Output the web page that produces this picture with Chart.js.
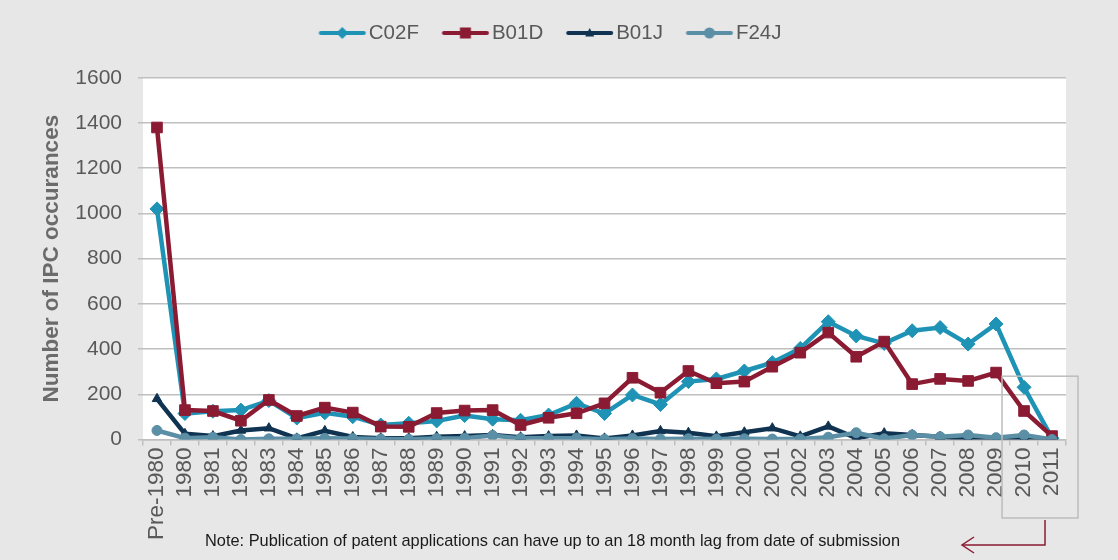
<!DOCTYPE html>
<html>
<head>
<meta charset="utf-8">
<title>IPC occurances</title>
<script src="https://cdn.jsdelivr.net/npm/chart.js@4.4.0/dist/chart.umd.min.js"></script>
<style>
  html, body { margin: 0; padding: 0; background: #e7e7e8; }
  #wrap { width: 1118px; height: 560px; position: relative; }
</style>
</head>
<body>
<div id="wrap"><canvas id="chart"></canvas></div>
<script>
// Data
const categories = ['Pre-1980', '1980', '1981', '1982', '1983', '1984', '1985', '1986', '1987', '1988',
    '1989', '1990', '1991', '1992', '1993', '1994', '1995', '1996', '1997', '1998', '1999', '2000',
    '2001', '2002', '2003', '2004', '2005', '2006', '2007', '2008', '2009', '2010', '2011'];
const c02fValues = [1020, 115, 125, 130, 172, 95, 118, 101, 64, 72, 82, 106, 90, 85, 108, 160, 115,
    197, 155, 256, 268, 303, 340, 403, 521, 458, 425, 481, 495, 422, 511, 231, 6];
const b01dValues = [1380, 130, 126, 83, 175, 104, 141, 119, 57, 56, 117, 128, 130, 64, 96, 116, 160,
    273, 207, 303, 249, 256, 322, 384, 473, 366, 433, 245, 268, 259, 296, 126, 15];
const b01jValues = [180, 25, 15, 40, 50, 5, 38, 11, 6, 6, 12, 15, 20, 10, 15, 18, 5,
    18, 38, 30, 14, 32, 50, 14, 58, 6, 28, 20, 12, 2, 0, 2, 0];
const f24jValues = [40, 6, 10, 0, 3, 3, 5, 4, 2, 1, 4, 6, 18, 5, 6, 6, 1,
    4, 2, 3, 2, 3, 2, 2, 10, 30, 3, 20, 12, 20, 8, 20, 0];
const seriesNames = ['C02F', 'B01D', 'B01J', 'F24J'];
const yTitle = 'Number of IPC occurances';
const noteText = 'Note: Publication of patent applications can have up to an 18 month lag from date of submission';

const FONT = '"Liberation Sans", Arial, Helvetica, sans-serif';
const TEXT_GREY = '#595959';
const GRID_GREY = '#bfbfbf';
const colors = ['#1f93b5', '#8b1b33', '#0f3350', '#5b8fa6'];
const markers = ['rectRot', 'rect', 'triangle', 'circle'];

// small line + marker image for the legend
function legendSymbol(color, style) {
    const c = document.createElement('canvas');
    c.width = 56;
    c.height = 16;
    const ctx = c.getContext('2d');
    const cx = 31.75, cy = 8;
    ctx.strokeStyle = color;
    ctx.fillStyle = color;
    ctx.lineWidth = 4;
    ctx.lineCap = 'round';
    ctx.beginPath();
    ctx.moveTo(10.25, cy);
    ctx.lineTo(53.25, cy);
    ctx.stroke();
    ctx.beginPath();
    if (style === 'rectRot') {
        ctx.moveTo(cx - 6, cy); ctx.lineTo(cx, cy - 6); ctx.lineTo(cx + 6, cy); ctx.lineTo(cx, cy + 6);
    } else if (style === 'rect') {
        ctx.rect(cx - 5.5, cy - 5.5, 11, 11);
    } else if (style === 'triangle') {
        ctx.moveTo(cx - 4.5, cy + 3.5); ctx.lineTo(cx, cy - 5); ctx.lineTo(cx + 4.5, cy + 3.5);
    } else {
        ctx.arc(cx, cy, 5.5, 0, Math.PI * 2);
    }
    ctx.closePath();
    ctx.fill();
    return c;
}
const legendSymbols = colors.map((c, i) => legendSymbol(c, markers[i]));

// white plot area
const plotBackground = {
    id: 'plotBackground',
    beforeDraw(chart) {
        const { ctx, chartArea: a } = chart;
        ctx.save();
        ctx.fillStyle = '#ffffff';
        ctx.fillRect(a.left, a.top, a.right - a.left, a.bottom - a.top);
        ctx.restore();
    }
};

// extra room under the legend
const legendSpacer = {
    id: 'legendSpacer',
    afterInit(chart) {
        const legend = chart.legend;
        const fit = legend.fit;
        legend.fit = function () {
            fit.call(this);
            this.height += 24.5;
        };
    }
};

// box round the last two years, arrow and note
const annotations = {
    id: 'annotations',
    afterDraw(chart) {
        const { ctx, chartArea: a, scales: { x, y } } = chart;
        const xA = x.getPixelForValue(categories.length - 2);
        const xB = x.getPixelForValue(categories.length - 1);
        const boxTop = y.getPixelForValue(280);
        const boxBottom = a.bottom + 78.5;
        ctx.save();
        ctx.strokeStyle = '#bdbdbd';
        ctx.lineWidth = 1.5;
        ctx.strokeRect(xA - 22, boxTop, (xB + 26) - (xA - 22), boxBottom - boxTop);

        const ax = xB - 7;
        const ay = a.bottom + 105.5;
        ctx.strokeStyle = '#8b1b33';
        ctx.lineWidth = 1.5;
        ctx.beginPath();
        ctx.moveTo(ax, boxBottom + 2);
        ctx.lineTo(ax, ay);
        ctx.lineTo(ax - 83, ay);
        ctx.stroke();
        ctx.beginPath();
        ctx.moveTo(ax - 71, ay - 8);
        ctx.lineTo(ax - 83, ay);
        ctx.lineTo(ax - 71, ay + 8);
        ctx.stroke();

        ctx.fillStyle = '#1a1a1a';
        ctx.font = '17px ' + FONT;
        ctx.textBaseline = 'middle';
        ctx.textAlign = 'left';
        ctx.fillText(noteText, a.left + 62, a.bottom + 102, 695);
        ctx.restore();
    }
};

const valueSets = [c02fValues, b01dValues, b01jValues, f24jValues];
const drawOrder = [2, 1, 3, 0];
const pointRadii = [7, 7.5, 5.5, 5];

const datasets = seriesNames.map((name, i) => ({
    label: name,
    data: valueSets[i],
    borderColor: colors[i],
    backgroundColor: colors[i],
    borderWidth: 4.5,
    pointStyle: markers[i],
    pointRadius: pointRadii[i],
    pointBorderWidth: 1,
    pointHoverRadius: pointRadii[i],
    tension: 0,
    order: drawOrder[i]
}));

new Chart(document.getElementById('chart'), {
    type: 'line',
    data: { labels: categories, datasets: datasets },
    plugins: [plotBackground, legendSpacer, annotations],
    options: {
        responsive: true,
        maintainAspectRatio: false,
        animation: false,
        layout: { padding: { left: 34, right: 52, top: 0, bottom: 0 } },
        plugins: {
            tooltip: { enabled: false },
            legend: {
                position: 'top',
                align: 'center',
                labels: {
                    usePointStyle: true,
                    pointStyleWidth: 40,
                    padding: 22.75,
                    color: TEXT_GREY,
                    font: { size: 20.5, family: FONT },
                    generateLabels: chart => chart.data.datasets.map((ds, i) => ({
                        text: ds.label,
                        pointStyle: legendSymbols[i],
                        fillStyle: ds.borderColor,
                        strokeStyle: ds.borderColor,
                        lineWidth: 0,
                        fontColor: TEXT_GREY,
                        hidden: !chart.isDatasetVisible(i),
                        datasetIndex: i
                    }))
                }
            }
        },
        scales: {
            x: {
                offset: true,
                grid: {
                    display: true,
                    drawOnChartArea: false,
                    drawTicks: true,
                    tickLength: 6,
                    offset: true,
                    color: GRID_GREY,
                    lineWidth: 1.5
                },
                border: { display: true, color: GRID_GREY, width: 1.5 },
                ticks: {
                    autoSkip: false,
                    maxRotation: 90,
                    minRotation: 90,
                    padding: 2,
                    color: TEXT_GREY,
                    font: { size: 22.5, family: FONT }
                },
                afterFit(scale) { scale.height = 120.5; }
            },
            y: {
                min: 0,
                max: 1600,
                ticks: {
                    stepSize: 200,
                    padding: 16,
                    color: TEXT_GREY,
                    font: { size: 21, family: FONT },
                    callback: value => String(value)
                },
                grid: { color: GRID_GREY, lineWidth: 1.5, tickLength: 5 },
                border: { display: false },
                title: {
                    display: true,
                    text: yTitle,
                    color: '#6b6b6b',
                    font: { size: 22.5, weight: 'bold', family: FONT },
                    padding: { top: 4.5, bottom: 0 }
                },
                afterFit(scale) { scale.width = 109; }
            }
        }
    }
});
</script>
</body>
</html>
